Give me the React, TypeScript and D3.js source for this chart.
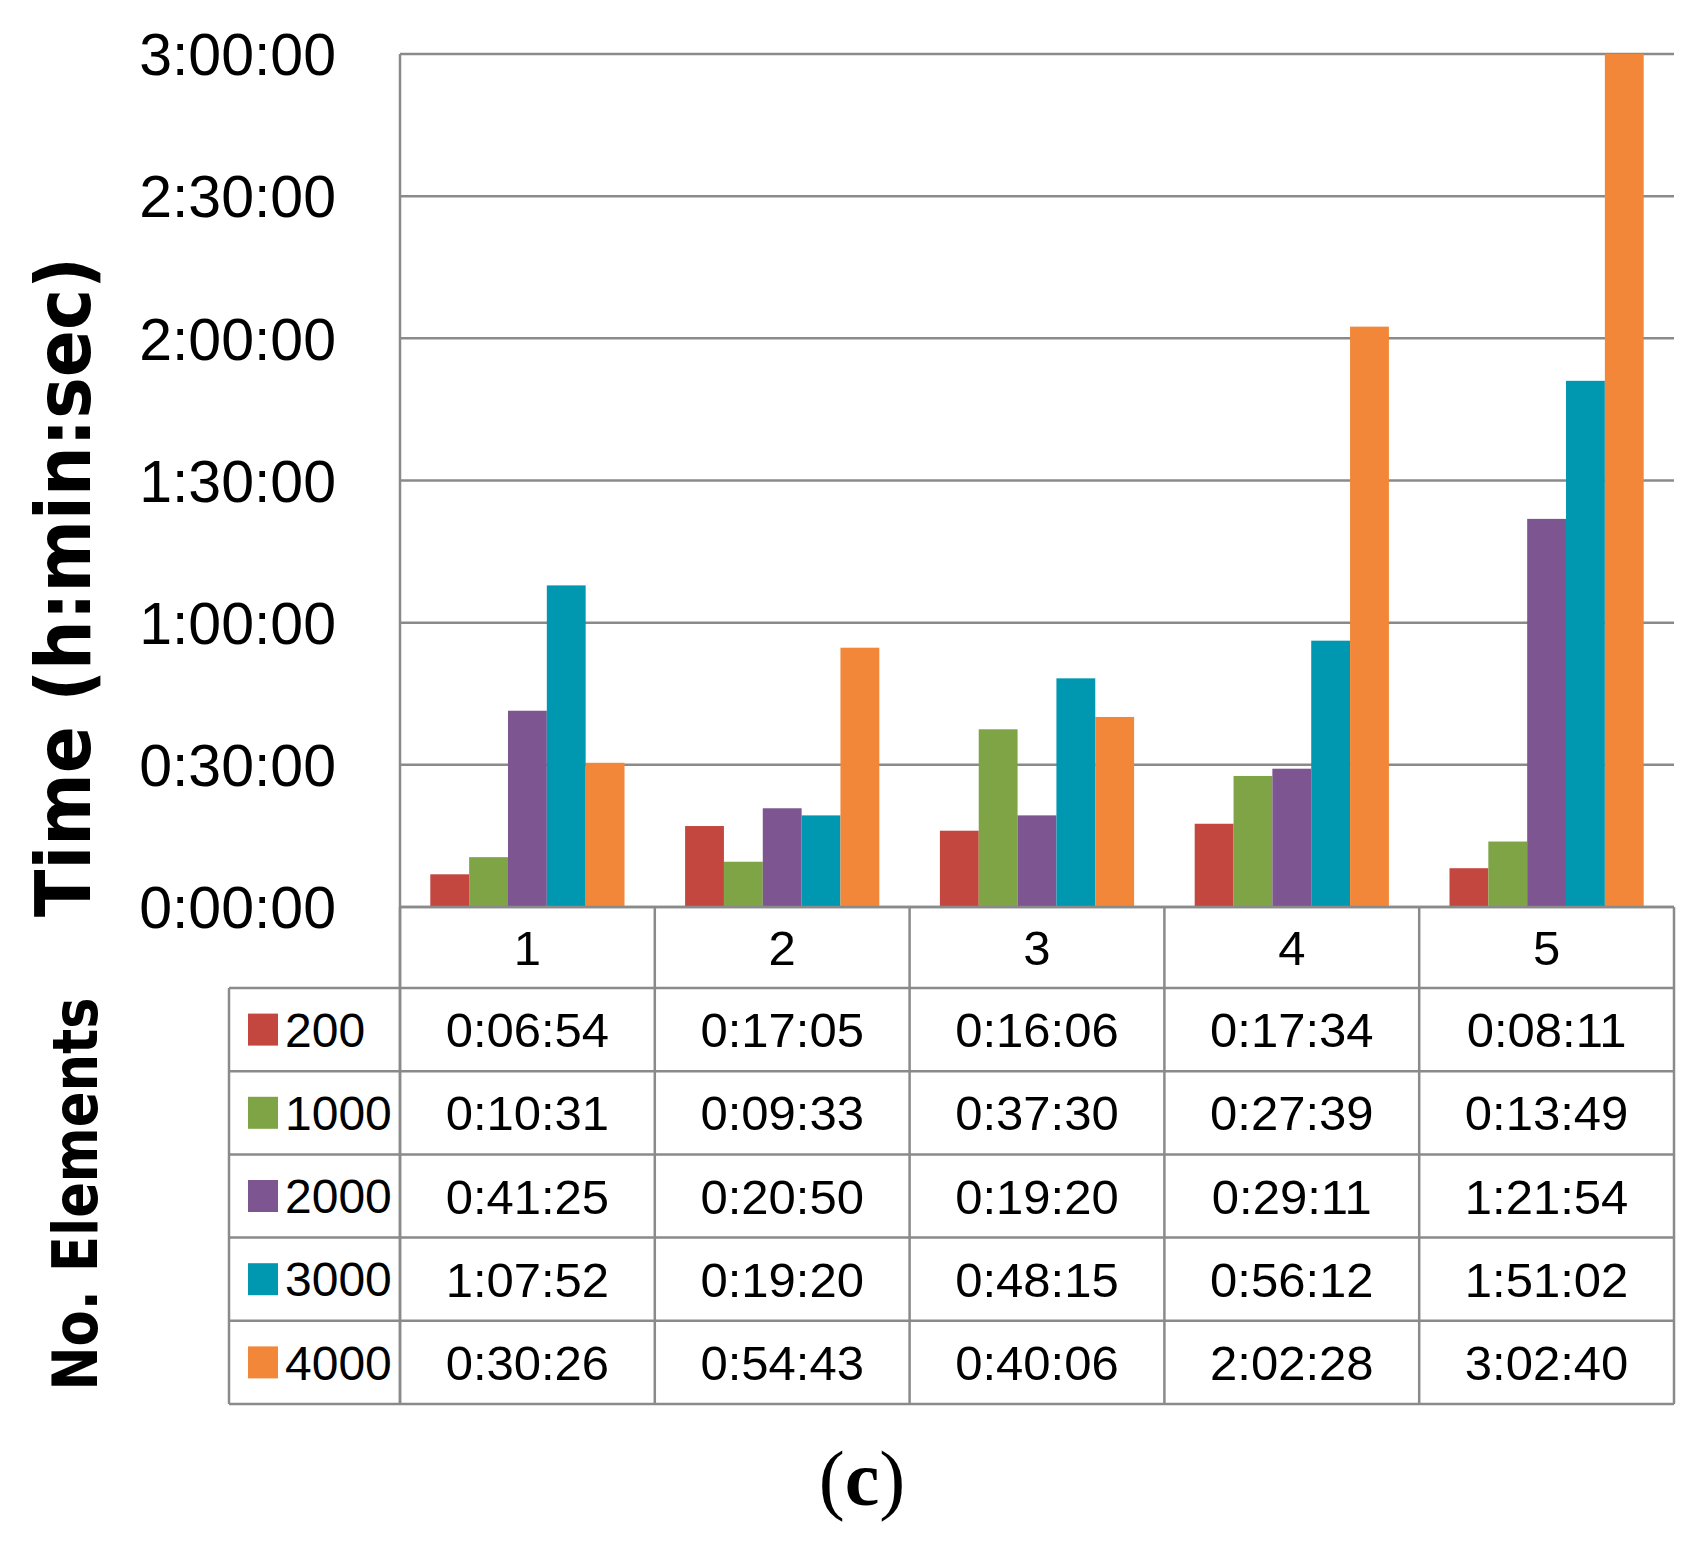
import React from "react";
import * as d3 from "d3";

// categories (runs) and number of elements series
const categories = ["1", "2", "3", "4", "5"];
const seriesNames = ["200", "1000", "2000", "3000", "4000"];
const seriesColors = ["#C3463F", "#7FA446", "#7C5591", "#0098B1", "#F28739"];

// values as shown in the data table (h:mm:ss)
const s200 = ["0:06:54", "0:17:05", "0:16:06", "0:17:34", "0:08:11"];
const s1000 = ["0:10:31", "0:09:33", "0:37:30", "0:27:39", "0:13:49"];
const s2000 = ["0:41:25", "0:20:50", "0:19:20", "0:29:11", "1:21:54"];
const s3000 = ["1:07:52", "0:19:20", "0:48:15", "0:56:12", "1:51:02"];
const s4000 = ["0:30:26", "0:54:43", "0:40:06", "2:02:28", "3:02:40"];
const seriesValues = [s200, s1000, s2000, s3000, s4000];

// y-axis ticks, in seconds
const yTicks = [0, 1800, 3600, 5400, 7200, 9000, 10800];

const toSec = (s: string) => {
  const [h, m, sec] = s.split(":").map(Number);
  return h * 3600 + m * 60 + sec;
};
const fmt = (t: number) => {
  const h = Math.floor(t / 3600);
  const m = Math.floor((t % 3600) / 60);
  const s = t % 60;
  return `${h}:${String(m).padStart(2, "0")}:${String(s).padStart(2, "0")}`;
};

const W = 1701;
const H = 1546;
const left = 400;
const right = 1674;
const top = 54;
const bottom = 907;
const legendLeft = 229;
const headerBottom = 988;
const tableBottom = 1404;
const gridColor = "#8A8A8A";
const font = "'Liberation Sans', Arial, sans-serif";

export default function App() {
  const x = d3.scaleBand<string>().domain(categories).range([left, right]);
  const xInner = d3
    .scaleBand<string>()
    .domain(seriesNames)
    .range([0, x.bandwidth()])
    .paddingInner(0)
    .paddingOuter(0.78);
  const yMax = d3.max(yTicks) as number;
  const y = d3.scaleLinear().domain([0, yMax]).range([bottom, top]);
  const row = d3.scaleBand<string>().domain(seriesNames).range([headerBottom, tableBottom]);

  return (
    <svg width={W} height={H} style={{ position: "absolute", left: 0, top: 0, background: "#fff" }}>
      <rect width={W} height={H} fill="#fff" />

      {/* gridlines */}
      {yTicks.map((t) => (
        <line key={"g" + t} x1={left} x2={right} y1={y(t)} y2={y(t)} stroke={gridColor} strokeWidth={2.5} />
      ))}

      {/* bars */}
      {seriesNames.map((name, si) =>
        categories.map((c, ci) => {
          const v = Math.min(toSec(seriesValues[si][ci]), yMax);
          return (
            <rect
              key={name + c}
              x={(x(c) as number) + (xInner(name) as number)}
              y={y(v)}
              width={xInner.bandwidth()}
              height={y(0) - y(v)}
              fill={seriesColors[si]}
            />
          );
        })
      )}

      {/* y tick labels */}
      {yTicks.map((t) => (
        <text key={"t" + t} x={336} y={y(t)} dy="0.36em" textAnchor="end" fontFamily={font} fontSize={59} fill="#000">
          {fmt(t)}
        </text>
      ))}

      {/* table grid */}
      <g stroke={gridColor} strokeWidth={2.5} fill="none">
        <line x1={left} x2={left} y1={top} y2={tableBottom} />
        <line x1={right} x2={right} y1={bottom} y2={tableBottom} />
        <line x1={legendLeft} x2={legendLeft} y1={headerBottom} y2={tableBottom} />
        <line x1={left} x2={right} y1={bottom} y2={bottom} />
        {categories.map((c) => (
          <line key={"v" + c} x1={x(c) as number} x2={x(c) as number} y1={bottom} y2={tableBottom} />
        ))}
        {seriesNames.map((n) => (
          <line key={"h" + n} x1={legendLeft} x2={right} y1={row(n) as number} y2={row(n) as number} />
        ))}
        <line x1={legendLeft} x2={right} y1={tableBottom} y2={tableBottom} />
      </g>

      {/* header numbers */}
      {categories.map((c) => (
        <text
          key={"hd" + c}
          x={(x(c) as number) + x.bandwidth() / 2}
          y={(bottom + headerBottom) / 2}
          dy="0.36em"
          textAnchor="middle"
          fontFamily={font}
          fontSize={49}
        >
          {c}
        </text>
      ))}

      {/* legend + values */}
      {seriesNames.map((n, si) => {
        const cy = (row(n) as number) + row.bandwidth() / 2;
        return (
          <g key={"r" + n}>
            <rect x={248} y={cy - 16} width={30} height={32} fill={seriesColors[si]} />
            <text x={285} y={cy} dy="0.36em" fontFamily={font} fontSize={48}>
              {n}
            </text>
            {categories.map((c, ci) => (
              <text
                key={c}
                x={(x(c) as number) + x.bandwidth() / 2}
                y={cy}
                dy="0.36em"
                textAnchor="middle"
                fontFamily={font}
                fontSize={49}
              >
                {seriesValues[si][ci]}
              </text>
            ))}
          </g>
        );
      })}

      {/* axis titles */}
      <text
        transform={`translate(90, 587) rotate(-90)`}
        textAnchor="middle"
        fontFamily="'DejaVu Sans', sans-serif"
        fontWeight="bold"
        fontSize={76}
        textLength={660}
        lengthAdjust="spacingAndGlyphs"
      >
        Time (h:min:sec)
      </text>
      <text
        transform={`translate(97, 1194) rotate(-90)`}
        textAnchor="middle"
        fontFamily="'DejaVu Sans', sans-serif"
        fontWeight="bold"
        fontSize={62}
        textLength={393}
        lengthAdjust="spacingAndGlyphs"
      >
        No. Elements
      </text>

      {/* caption */}
      <text x={862} y={1505} textAnchor="middle" fontFamily="'Liberation Serif', 'Times New Roman', serif" fontSize={78}>
        (<tspan fontWeight="bold">c</tspan>)
      </text>
    </svg>
  );
}
